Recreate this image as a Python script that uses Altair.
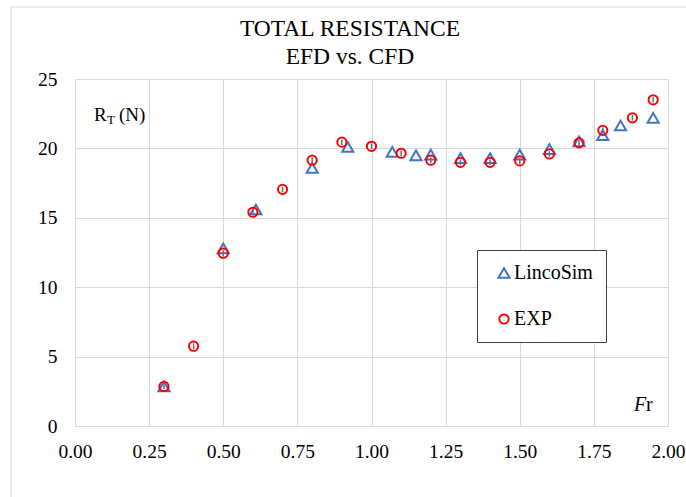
import altair as alt
import pandas as pd

# LincoSim (CFD) total resistance
FR_SIM = [0.30, 0.50, 0.61, 0.80, 0.92, 1.07, 1.15, 1.20, 1.30, 1.40, 1.50, 1.60, 1.70, 1.78, 1.84, 1.95]
RT_SIM = [2.85, 12.8, 15.6, 18.6, 20.1, 19.75, 19.5, 19.55, 19.3, 19.3, 19.55, 19.95, 20.5, 20.95, 21.65, 22.2]

# Towing tank (EFD) total resistance with uncertainty
FR_EXP = [0.30, 0.40, 0.50, 0.60, 0.70, 0.80, 0.90, 1.00, 1.10, 1.20, 1.30, 1.40, 1.50, 1.60, 1.70, 1.78, 1.88, 1.95]
RT_EXP = [2.85, 5.75, 12.45, 15.4, 17.05, 19.15, 20.45, 20.15, 19.65, 19.15, 19.0, 19.0, 19.1, 19.6, 20.4, 21.3, 22.2, 23.5]
ERR_EXP = [0.2, 0.2, 0.2, 0.2, 0.2, 0.2, 0.2, 0.2, 0.2, 0.2, 0.2, 0.2, 0.2, 0.2, 0.2, 0.2, 0.2, 0.2]

X_TICKS = [0.0, 0.25, 0.5, 0.75, 1.0, 1.25, 1.5, 1.75, 2.0]
Y_TICKS = [0, 5, 10, 15, 20, 25]
SERIES = ["LincoSim", "EXP"]

FONT = "Liberation Serif"
W, H = 593, 347

points = pd.concat([
    pd.DataFrame({"series": "LincoSim", "fr": FR_SIM, "rt": RT_SIM}),
    pd.DataFrame({"series": "EXP", "fr": FR_EXP, "rt": RT_EXP}),
])
errors = pd.DataFrame({
    "fr": FR_EXP,
    "lo": [v - e for v, e in zip(RT_EXP, ERR_EXP)],
    "hi": [v + e for v, e in zip(RT_EXP, ERR_EXP)],
})

x_enc = alt.X("fr:Q", scale=alt.Scale(domain=[0, 2], nice=False),
              axis=alt.Axis(values=X_TICKS, format=".2f", labelPadding=16,
                            labelFlush=False, labelOverlap=False, title=None))
y_axis = alt.Axis(values=Y_TICKS, format="d", labelPadding=18, labelFlush=False,
                  labelOverlap=False, title=None)

markers = alt.Chart(points).mark_point(filled=False, strokeWidth=2, opacity=1).encode(
    x=x_enc,
    y=alt.Y("rt:Q", scale=alt.Scale(domain=[0, 25], nice=False), axis=y_axis),
    shape=alt.Shape("series:N", scale=alt.Scale(domain=SERIES, range=["triangle-up", "circle"])),
    color=alt.Color("series:N", scale=alt.Scale(domain=SERIES, range=["#4472C4", "#FF0000"]),
                    legend=alt.Legend(
                        orient="none", legendX=402, legendY=171, title=None,
                        strokeColor="#404040", fillColor="white", padding=13,
                        rowPadding=26, symbolOffset=4, labelOffset=0,
                        labelFont=FONT, labelFontSize=20, labelColor="#000000",
                        symbolStrokeWidth=2, symbolSize=110,
                    )),
    size=alt.Size("series:N", scale=alt.Scale(domain=SERIES, range=[125, 85]), legend=None),
)

bars = alt.Chart(errors).mark_rule(color="#6e6e6e", strokeWidth=1.5).encode(
    x="fr:Q", y="lo:Q", y2="hi:Q"
)


def label(text, x, y, size, **kw):
    return alt.Chart(pd.DataFrame({"t": [text]})).mark_text(
        font=FONT, fontSize=size, color="#000000", **kw
    ).encode(x=alt.value(x), y=alt.value(y), text="t:N")


# outer chart-area frame
frame = alt.Chart(pd.DataFrame({"k": [0]})).mark_rect(
    fillOpacity=0, stroke="#d9d9d9", strokeWidth=1
).encode(x=alt.value(-64), x2=alt.value(640), y=alt.value(-72), y2=alt.value(440))

texts = [
    label("TOTAL RESISTANCE", 275, -50, 23.5, align="center", baseline="middle"),
    label("EFD vs. CFD", 275, -22.5, 23.5, align="center", baseline="middle"),
    label("R", 19, 42, 19, align="left", baseline="alphabetic"),
    label("T", 32, 45, 13, align="left", baseline="alphabetic"),
    label("(N)", 44, 42, 19, align="left", baseline="alphabetic"),
    label("F", 559, 332, 20, align="left", baseline="alphabetic", fontStyle="italic"),
    label("r", 571, 332, 20, align="left", baseline="alphabetic"),
]

chart = alt.layer(frame, bars, markers, *texts).properties(
    width=W, height=H,
    autosize=alt.AutoSizeParams(type="none"),
    padding={"left": 75, "top": 79, "right": 18, "bottom": 71},
    background="white",
).configure_view(stroke=None).configure_axis(
    grid=True, gridColor="#d9d9d9", gridWidth=1, domain=False, ticks=False,
    labelFont=FONT, labelFontSize=19.5, labelColor="#000000",
)

chart.save("out.html", embed_options={"renderer": "svg", "actions": False})
